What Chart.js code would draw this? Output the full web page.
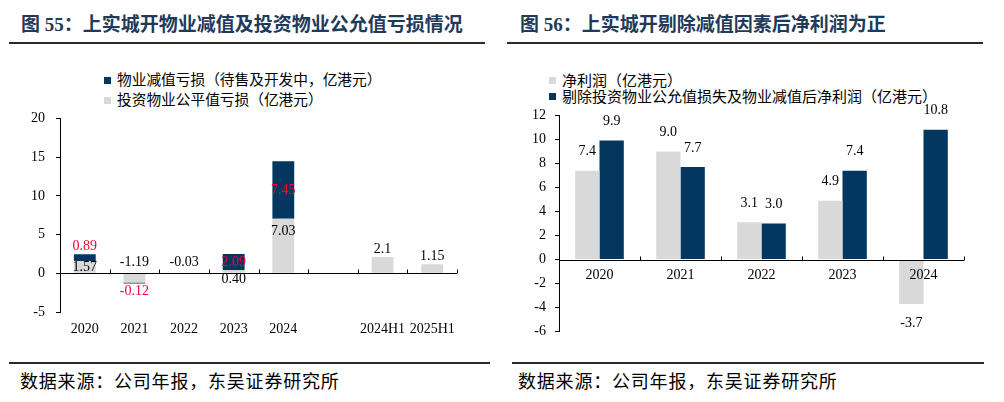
<!DOCTYPE html>
<html>
<head>
<meta charset="utf-8">
<script src="https://cdn.jsdelivr.net/npm/chart.js@4.4.1/dist/chart.umd.min.js"></script>
<style>
  body { margin: 0; width: 1004px; height: 402px; background: #fff; position: relative; overflow: hidden;
         font-family: "Liberation Serif", "Noto Sans CJK SC", serif; }
  .title { position: absolute; top: 12px; height: 26px; line-height: 26px; font-size: 19px; font-weight: bold;
           color: #1f3a5a; white-space: nowrap; }
  .rule { position: absolute; height: 2px; background: #2b2b2b; }
  .legend { position: absolute; font-family: "Noto Sans CJK SC", sans-serif; font-size: 14.7px; color: #000; white-space: nowrap; }
  .legend i { display: inline-block; width: 7px; height: 7px; margin-right: 6px; vertical-align: middle; position: relative; top: -1px; }
  .src { position: absolute; top: 369px; line-height: 22px; font-size: 18px; letter-spacing: 0.8px; color: #000; white-space: nowrap;
         font-family: "Noto Sans CJK SC", sans-serif; }
  canvas { position: absolute; }
</style>
</head>
<body>

<div class="title" style="left:21px">图 55：上实城开物业减值及投资物业公允值亏损情况</div>
<div class="rule" style="left:9px;top:42px;width:476px"></div>
<div class="legend" style="left:104px;top:69px;line-height:20px">
  <div><i style="background:#03375f"></i>物业减值亏损（待售及开发中，亿港元）</div>
  <div><i style="background:#d9d9d9"></i>投资物业公平值亏损（亿港元）</div>
</div>
<canvas id="leftChart" width="500" height="249" style="left:0px;top:99px"></canvas>
<div class="rule" style="left:9px;top:362px;width:481px"></div>
<div class="src" style="left:20px">数据来源：公司年报，东吴证券研究所</div>

<div class="title" style="left:520px">图 56：上实城开剔除减值因素后净利润为正</div>
<div class="rule" style="left:507px;top:42px;width:476px"></div>
<div class="legend" style="left:549px;top:72px;line-height:16px;font-size:15px">
  <div><i style="background:#d9d9d9"></i>净利润（亿港元）</div>
  <div><i style="background:#03375f"></i>剔除投资物业公允值损失及物业减值后净利润（亿港元）</div>
</div>
<canvas id="rightChart" width="504" height="251" style="left:500px;top:98px"></canvas>
<div class="rule" style="left:512px;top:362px;width:472px"></div>
<div class="src" style="left:518px">数据来源：公司年报，东吴证券研究所</div>

<script>
// left chart: impairment and fair value losses
const leftCats = ['2020', '2021', '2022', '2023', '2024', '', '2024H1', '2025H1'];
const fairValueLoss = [1.57, -1.19, -0.03, 0.40, 7.03, null, 2.1, 1.15];
const impairment = [0.89, -0.12, null, 2.09, 7.45, null, null, null];

// right chart: net profit vs adjusted net profit
const rightCats = ['2020', '2021', '2022', '2023', '2024'];
const netProfit = [7.4, 9.0, 3.1, 4.9, -3.7];
const adjProfit = [9.9, 7.7, 3.0, 7.4, 10.8];

const NAVY = '#03375f';
const GRAY = '#d9d9d9';
const RED = '#ff0033';

Chart.defaults.font.family = '"Liberation Serif", "Times New Roman", serif';
Chart.defaults.font.size = 14;
Chart.defaults.color = '#000';

// zero line with small ticks between categories
const zeroLine = {
  id: 'zeroLine',
  afterDatasetsDraw(chart) {
    const { ctx, chartArea } = chart;
    const x = chart.scales.x, y = chart.scales.y;
    const py = Math.round(y.getPixelForValue(0)) + 0.5;
    ctx.save();
    ctx.strokeStyle = '#000';
    ctx.lineWidth = 1;
    ctx.beginPath();
    ctx.moveTo(chartArea.left, py);
    ctx.lineTo(chartArea.right, py);
    for (let i = 1; i <= chart.data.labels.length; i++) {
      const px = Math.round(x.getPixelForValue(i - 0.5)) + 0.5;
      ctx.moveTo(px, py);
      ctx.lineTo(px, py - 4);
    }
    ctx.stroke();
    ctx.restore();
  }
};

// value labels
const barLabels = {
  id: 'barLabels',
  afterDatasetsDraw(chart, args, opts) {
    const { ctx } = chart;
    const zero = chart.scales.y.getPixelForValue(0);
    ctx.save();
    ctx.font = '14px "Liberation Serif", serif';
    ctx.textAlign = 'center';
    ctx.textBaseline = 'middle';
    chart.data.datasets.forEach((ds, di) => {
      chart.getDatasetMeta(di).data.forEach((bar, i) => {
        const v = ds.data[i];
        if (v === null || v === undefined) return;
        const place = ds.labelPlace ? ds.labelPlace[i] : (v >= 0 ? 'up' : 'down');
        if (!place) return;
        const top = Math.min(bar.y, bar.base), bottom = Math.max(bar.y, bar.base);
        let y;
        if (place === 'up') y = top - opts.gap;
        else if (place === 'down') y = bottom + opts.gap;
        else if (place === 'mid') y = (top + bottom) / 2;
        else if (place === 'topIn') y = top + 12;
        else if (place === 'zeroUp') y = zero - 11;
        else if (place === 'zeroDown') y = zero + 6;
        ctx.fillStyle = ds.labelColor || '#000';
        ctx.fillText(opts.format(v, i, chart), bar.x, y);
      });
    });
    ctx.restore();
  }
};

new Chart(document.getElementById('leftChart'), {
  type: 'bar',
  data: {
    labels: leftCats,
    datasets: [
      {
        label: '投资物业公平值亏损（亿港元）',
        data: fairValueLoss,
        backgroundColor: GRAY,
        labelColor: '#000',
        labelPlace: ['mid', 'zeroUp', 'zeroUp', 'zeroDown', 'topIn', null, 'up', 'up']
      },
      {
        label: '物业减值亏损（待售及开发中，亿港元）',
        data: impairment,
        backgroundColor: NAVY,
        labelColor: RED,
        labelPlace: ['up', 'down', null, 'mid', 'mid', null, null, null]
      }
    ]
  },
  options: {
    responsive: false,
    animation: false,
    layout: { padding: { top: 0, right: 43, bottom: 6, left: 0 } },
    datasets: { bar: { categoryPercentage: 0.44, barPercentage: 1.0 } },
    scales: {
      x: {
        stacked: true,
        grid: { display: false, drawTicks: false },
        border: { display: false },
        ticks: { padding: 9, autoSkip: false, maxRotation: 0 },
        afterFit(s) { s.height = 30; }
      },
      y: {
        stacked: true,
        min: -5, max: 20,
        ticks: { stepSize: 5, padding: 11 },
        grid: { drawOnChartArea: false, drawTicks: true, tickLength: 4, color: '#000' },
        border: { color: '#000' },
        afterFit(s) { s.width = 60; }
      }
    },
    plugins: {
      legend: { display: false },
      tooltip: { enabled: false },
      barLabels: {
        gap: 8,
        format: (v, i, chart) => chart.data.labels[i].includes('H1') ? String(v) : v.toFixed(2)
      }
    }
  },
  plugins: [zeroLine, barLabels]
});

new Chart(document.getElementById('rightChart'), {
  type: 'bar',
  data: {
    labels: rightCats,
    datasets: [
      { label: '净利润（亿港元）', data: netProfit, backgroundColor: GRAY },
      { label: '剔除投资物业公允值损失及物业减值后净利润（亿港元）', data: adjProfit, backgroundColor: NAVY }
    ]
  },
  options: {
    responsive: false,
    animation: false,
    layout: { padding: { top: 0, right: 40, bottom: 8, left: 0 } },
    datasets: { bar: { categoryPercentage: 0.6, barPercentage: 1.0 } },
    scales: {
      x: {
        position: { y: 0 },
        grid: { display: false, drawTicks: false },
        border: { display: false },
        ticks: { z: 1, padding: 7, autoSkip: false, maxRotation: 0 }
      },
      y: {
        min: -6, max: 12,
        ticks: { stepSize: 2, padding: 9 },
        grid: { drawOnChartArea: false, drawTicks: true, tickLength: 4, color: '#000' },
        border: { color: '#000' },
        afterFit(s) { s.width = 59; }
      }
    },
    plugins: {
      legend: { display: false },
      tooltip: { enabled: false },
      barLabels: { gap: 19, format: v => v.toFixed(1) }
    }
  },
  plugins: [zeroLine, barLabels]
});
</script>
</body>
</html>
